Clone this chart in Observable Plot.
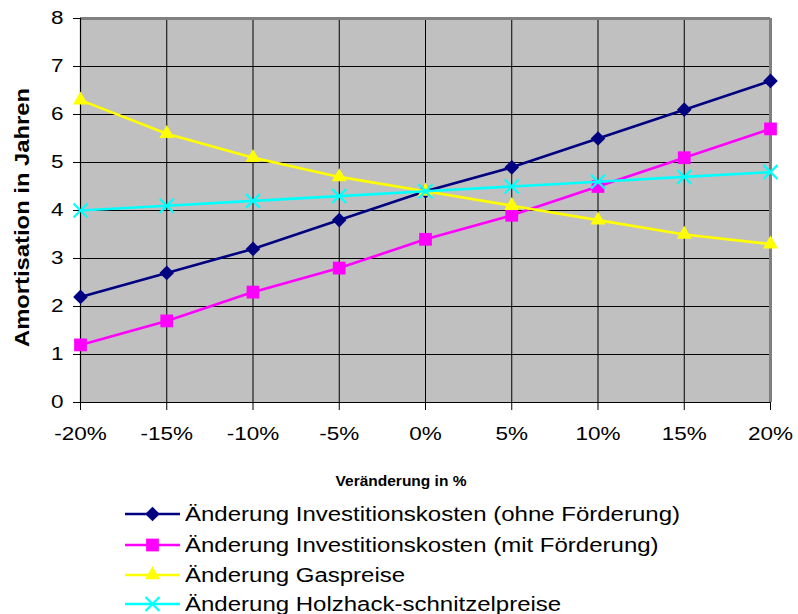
<!DOCTYPE html>
<html><head><meta charset="utf-8">
<script src="https://cdn.jsdelivr.net/npm/d3@7"></script>
<script src="https://cdn.jsdelivr.net/npm/@observablehq/plot@0.6"></script>
<style>
body{margin:0;background:#fff;font-family:"Liberation Sans",Arial,sans-serif;}
#wrap{position:relative;width:798px;height:614px;overflow:hidden;}
#chart{position:absolute;left:0;top:0;}
#xtitle{position:absolute;left:0;width:802px;top:472px;text-align:center;font-weight:bold;font-size:15.5px;color:#000;}
.row{position:absolute;left:123px;height:30px;display:flex;align-items:center;}
.row svg{flex:none;}
.row span{font-size:20px;display:inline-block;transform:scaleX(1.2);transform-origin:left center;white-space:nowrap;margin-left:2px;color:#000;}
</style></head>
<body><div id="wrap"><div id="chart"></div><div id="xtitle"></div><div id="legend"></div></div>
<script>
const changes = [-20, -15, -10, -5, 0, 5, 10, 15, 20];
const ohneFoerderung = [2.2, 2.7, 3.2, 3.8, 4.4, 4.9, 5.5, 6.1, 6.7];
const mitFoerderung = [1.2, 1.7, 2.3, 2.8, 3.4, 3.9, 4.5, 5.1, 5.7];
const gaspreise = [6.3, 5.6, 5.1, 4.7, 4.4, 4.1, 3.8, 3.5, 3.3];
const holzpreise = [4.0, 4.1, 4.2, 4.3, 4.4, 4.5, 4.6, 4.7, 4.8];
const seriesNames = [
  "Änderung Investitionskosten (ohne Förderung)",
  "Änderung Investitionskosten (mit Förderung)",
  "Änderung Gaspreise",
  "Änderung Holzhack-schnitzelpreise"
];
const seriesValues = [ohneFoerderung, mitFoerderung, gaspreise, holzpreise];
const seriesColors = ["#000080", "#ff00ff", "#ffff00", "#00ffff"];
const seriesSymbols = ["diamond2", "square", "triangle", "times"];
const seriesR = [6.6, 7.2, 5.6, 6.4];
const yTicks = [0, 1, 2, 3, 4, 5, 6, 7, 8];
const xTicks = changes;
const yTitle = "Amortisation in Jahren";
const xTitle = "Veränderung in %";

const series = seriesNames.map((name, i) => ({
  name, color: seriesColors[i], symbol: seriesSymbols[i], r: seriesR[i],
  data: changes.map((x, j) => ({x, y: seriesValues[i][j]}))
}));

const marks = [
  Plot.frame({fill: "#c0c0c0"}),
  Plot.gridY(yTicks, {stroke: "#000", strokeOpacity: 1, strokeWidth: 1}),
  Plot.gridX(xTicks, {stroke: "#000", strokeOpacity: 1, strokeWidth: 1}),
  Plot.ruleY([8], {stroke: "#808080", strokeWidth: 3}),
  Plot.ruleX([20], {stroke: "#808080", strokeWidth: 3}),
  Plot.ruleX([-20], {stroke: "#000", strokeWidth: 1.2}),
  Plot.ruleY([0], {stroke: "#000", strokeWidth: 1.2}),
  Plot.axisY(yTicks, {tickSize: 7, tickPadding: 10, fontSize: 18, label: null, stroke: "#000"}),
  Plot.axisX(xTicks, {tickSize: 8, tickPadding: 17, fontSize: 18, label: null, tickFormat: d => d + "%"}),
  Plot.text([yTitle], {frameAnchor: "left", dx: -58, dy: 7, rotate: -90, textAnchor: "middle", lineAnchor: "middle", fontWeight: "bold", fontSize: 20, fill: "#000"})
];
for (const s of series) {
  marks.push(Plot.line(s.data, {x: "x", y: "y", stroke: s.color, strokeWidth: 2.6}));
  if (s.symbol === "times") {
    marks.push(Plot.dot(s.data, {x: "x", y: "y", symbol: s.symbol, r: s.r, stroke: s.color, strokeWidth: 2.2, fill: "none"}));
  } else {
    marks.push(Plot.dot(s.data, {x: "x", y: "y", symbol: s.symbol, r: s.r, fill: s.color, stroke: "none"}));
  }
}

const chart = Plot.plot({
  width: 798, height: 460,
  marginLeft: 80, marginRight: 28, marginTop: 18, marginBottom: 58,
  style: {fontFamily: '"Liberation Sans", Arial, sans-serif', color: "#000", background: "#fff"},
  x: {domain: [-20, 20]},
  y: {domain: [0, 8]},
  marks
});
// stretch texts horizontally like the reference rendering
chart.querySelectorAll('g[aria-label="x-axis tick label"] text, g[aria-label="y-axis tick label"] text').forEach(t => {
  t.setAttribute("transform", (t.getAttribute("transform") || "") + " scale(1.25,1)");
});
chart.querySelectorAll('g[aria-label="text"] text').forEach(t => {
  t.setAttribute("transform", (t.getAttribute("transform") || "") + " scale(1.19,1)");
});
document.getElementById("chart").appendChild(chart);
document.getElementById("xtitle").textContent = xTitle;

const legend = document.getElementById("legend");
const rowCenters = [514, 545, 575, 604];
series.forEach((s, i) => {
  const row = document.createElement("div");
  row.className = "row";
  row.style.top = (rowCenters[i] - 15) + "px";
  const svg = d3.create("svg").attr("width", 60).attr("height", 30);
  svg.append("line").attr("x1", 2).attr("x2", 57).attr("y1", 15).attr("y2", 15)
    .attr("stroke", s.color).attr("stroke-width", 2.6);
  const symType = {diamond2: d3.symbolDiamond2, square: d3.symbolSquare, triangle: d3.symbolTriangle, times: d3.symbolTimes}[s.symbol];
  const p = svg.append("path").attr("transform", "translate(29.5,15)")
    .attr("d", d3.symbol(symType, Math.PI * s.r * s.r)());
  if (s.symbol === "times") p.attr("fill", "none").attr("stroke", s.color).attr("stroke-width", 2.2);
  else p.attr("fill", s.color);
  row.appendChild(svg.node());
  const span = document.createElement("span");
  span.textContent = s.name;
  row.appendChild(span);
  legend.appendChild(row);
});
</script>
</body></html>
